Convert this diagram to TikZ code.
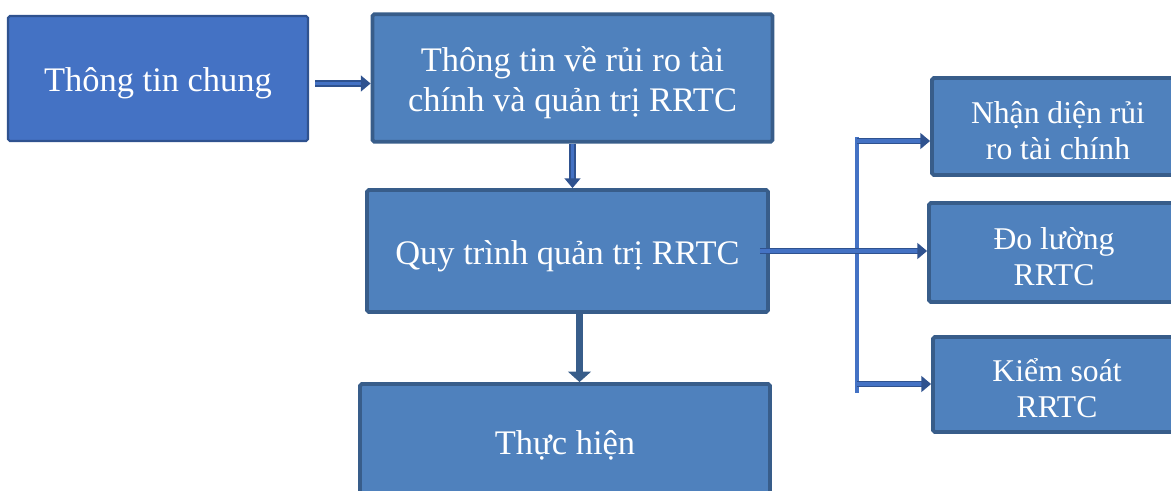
\documentclass[tikz,border=0pt]{standalone}
\usepackage{fontspec}
\setmainfont{Liberation Serif}
\usetikzlibrary{arrows.meta}
\definecolor{boxfill}{HTML}{4F81BD}
\definecolor{boxline}{HTML}{385D8A}
\definecolor{headfill}{HTML}{4472C4}
\definecolor{headline}{HTML}{2F528F}
\def\strutdepth{0.62em}
\newcommand\topstrut{\rule{0pt}{1.4em}}
\newcommand\lowstrut{\rule[-\strutdepth]{0pt}{\strutdepth}}
\tikzset{
  box/.style={draw=boxline, line width=2.2pt, fill=boxfill, text=white, align=center,
    inner sep=0pt, rounded corners=1pt, font=\fontsize{19.6}{23}\selectfont,
    execute at begin node=\topstrut, execute at end node=\lowstrut},
  sidebox/.style={box, font=\fontsize{18}{20.5}\selectfont},
  two lines/.code={\def\strutdepth{0.45em}},
  link/.style={draw=headline, line width=0.9pt, double=headfill, double distance=1.8pt,
    -{Triangle[length=5.5pt,width=9pt]}},
  bold link/.style={draw=boxline, line width=4pt, -{Triangle[length=6pt,width=13pt]}},
  bar/.style={draw=headfill, line width=2.4pt}
}
\begin{document}
\begin{tikzpicture}
  \useasboundingbox (0,0) rectangle (23.42,9.8);
  \node[box, fill=headfill, draw=headline, line width=1.2pt, minimum width=6cm, minimum height=2.5cm]
    (general) at (3.16,8.23) {Thông tin chung};
  \node[box, minimum width=8cm, minimum height=2.55cm]
    (riskinfo) at (11.45,8.24) {\topstrut Thông tin về rủi ro tài\\chính và quản trị RRTC};
  \node[box, minimum width=8.02cm, minimum height=2.44cm]
    (process) at (11.35,4.78) {Quy trình quản trị RRTC};
  \node[box, minimum width=8.2cm, minimum height=2.3cm]
    (exec) at (11.3,0.97) {Thực hiện};
  \node[sidebox, two lines, minimum width=5.04cm, minimum height=1.94cm]
    (identify) at (21.16,7.27) {\topstrut Nhận diện rủi\\ro tài chính};
  \node[sidebox, two lines, minimum width=5cm, minimum height=1.98cm]
    (measure) at (21.08,4.75) {\topstrut Đo lường\\RRTC};
  \node[sidebox, two lines, minimum width=4.96cm, minimum height=1.9cm]
    (control) at (21.14,2.11) {\topstrut Kiểm soát\\RRTC};

  \coordinate (a1) at ([yshift=-0.1cm]general.east);
  \draw[link] ([xshift=0.12cm]a1) -- (a1 -| riskinfo.west);
  \draw[link] (riskinfo.south) -- (riskinfo.south |- process.north);
  \coordinate (a3) at ([xshift=0.24cm]process.south);
  \draw[bold link] (a3) -- (a3 |- exec.north);

  \coordinate (top) at (17.14,7.06);
  \coordinate (bottom) at (17.14,1.94);
  \coordinate (fork1) at (17.14,6.98);
  \coordinate (fork3) at (17.14,2.12);
  \draw[bar] (top) -- (bottom);
  \draw[link] ([xshift=-0.2cm]process.east) -- (process.east -| measure.west);
  \draw[link] (fork1) -- (fork1 -| identify.west);
  \draw[link] (fork3) -- (fork3 -| control.west);
\end{tikzpicture}
\end{document}
